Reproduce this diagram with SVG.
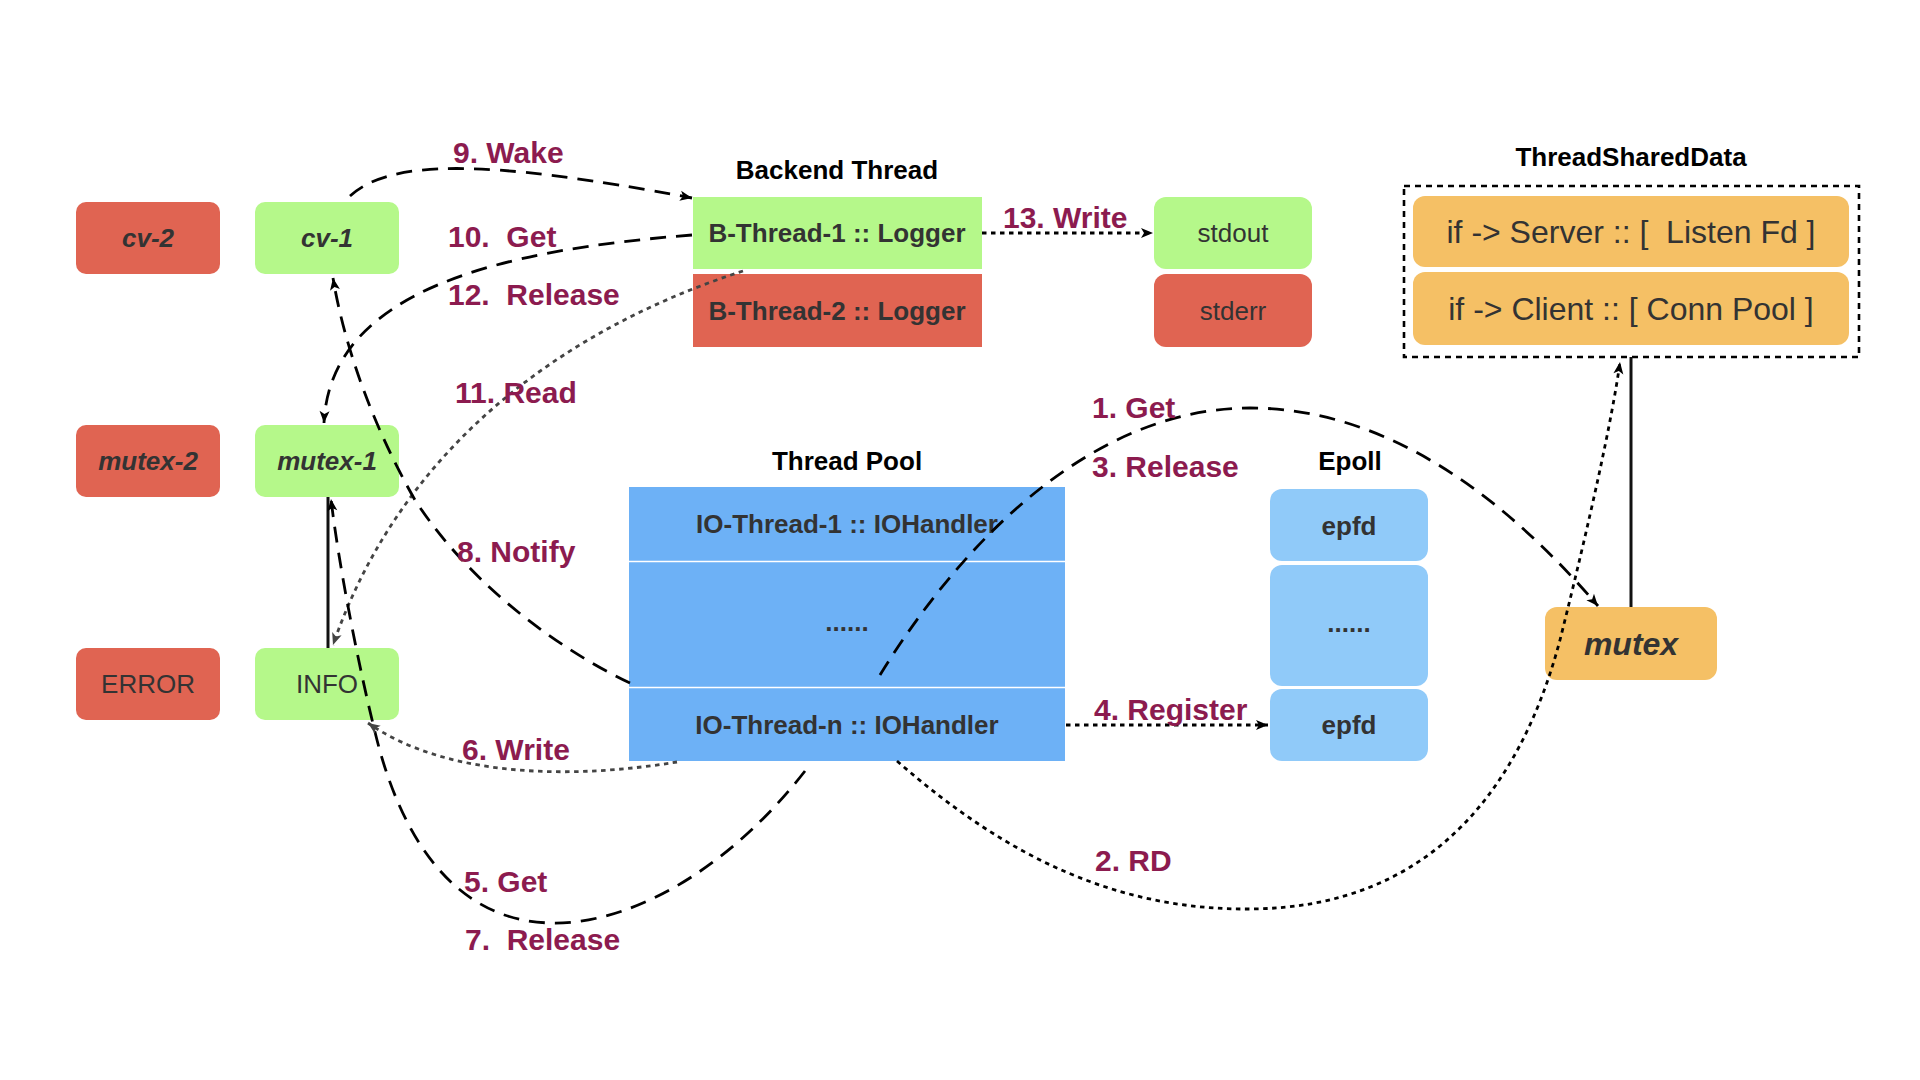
<svg xmlns="http://www.w3.org/2000/svg" width="1920" height="1080" viewBox="0 0 1920 1080">
<defs>
<style>
text{font-family:"Liberation Sans",Arial,"Noto Sans",sans-serif}
.red{fill:#E06452}
.green{fill:#B5F88A}
.blue{fill:#6DB1F6}
.lblue{fill:#90CAF9}
.orange{fill:#F5C065}
.t{font-size:26px;fill:#333;text-anchor:middle}
.b{font-weight:bold}
.bi{font-weight:bold;font-style:italic}
.title{font-size:26px;font-weight:bold;fill:#000;text-anchor:middle}
.lbl{font-size:30px;font-weight:bold;fill:#8C1B4F;white-space:pre}
.dash{fill:none;stroke:#000;stroke-width:2.8;stroke-dasharray:16 10}
.dot{fill:none;stroke:#000;stroke-width:2.8;stroke-dasharray:4.5 4.5}
.dotg{fill:none;stroke:#444;stroke-width:2.8;stroke-dasharray:4.5 4.5}
.solid{fill:none;stroke:#111;stroke-width:3}
</style>
<marker id="ah" markerUnits="userSpaceOnUse" markerWidth="14" markerHeight="12" refX="12" refY="5" orient="auto" overflow="visible">
<path d="M0,0 L12,5 L0,10 L3,5 z" fill="#000"/>
</marker>
<marker id="ahg" markerUnits="userSpaceOnUse" markerWidth="14" markerHeight="12" refX="12" refY="5" orient="auto" overflow="visible">
<path d="M0,0 L12,5 L0,10 L3,5 z" fill="#444"/>
</marker>
</defs>
<rect width="1920" height="1080" fill="#fff"/>

<g id="cv-2"><rect class="red" x="76" y="202" width="144" height="72" rx="10"/><text class="t bi" x="148" y="247">cv-2</text></g>
<g id="cv-1"><rect class="green" x="255" y="202" width="144" height="72" rx="10"/><text class="t bi" x="327" y="247">cv-1</text></g>
<g id="mutex-2"><rect class="red" x="76" y="425" width="144" height="72" rx="10"/><text class="t bi" x="148" y="470">mutex-2</text></g>
<g id="mutex-1"><rect class="green" x="255" y="425" width="144" height="72" rx="10"/><text class="t bi" x="327" y="470">mutex-1</text></g>
<g id="error"><rect class="red" x="76" y="648" width="144" height="72" rx="10"/><text class="t" x="148" y="693">ERROR</text></g>
<g id="info"><rect class="green" x="255" y="648" width="144" height="72" rx="10"/><text class="t" x="327" y="693">INFO</text></g>

<g id="backend-thread">
<text class="title" x="837" y="179">Backend Thread</text>
<g id="b-thread-1"><rect class="green" x="693" y="197" width="289" height="72"/><text class="t b" x="837" y="242">B-Thread-1 :: Logger</text></g>
<g id="b-thread-2"><rect class="red" x="693" y="274" width="289" height="73"/><text class="t b" x="837" y="320">B-Thread-2 :: Logger</text></g>
</g>
<g id="stdout"><rect class="green" x="1154" y="197" width="158" height="72" rx="12"/><text class="t" x="1233" y="242">stdout</text></g>
<g id="stderr"><rect class="red" x="1154" y="274" width="158" height="73" rx="12"/><text class="t" x="1233" y="320">stderr</text></g>

<g id="thread-pool">
<text class="title" x="847" y="470">Thread Pool</text>
<rect class="blue" x="629" y="487" width="436" height="274"/>
<line x1="629" y1="561.5" x2="1065" y2="561.5" stroke="#fff" stroke-width="1.6"/>
<line x1="629" y1="687.5" x2="1065" y2="687.5" stroke="#fff" stroke-width="1.6"/>
<text class="t b" x="847" y="533">IO-Thread-1 :: IOHandler</text>
<text class="t b" x="847" y="631">......</text>
<text class="t b" x="847" y="734">IO-Thread-n :: IOHandler</text>
</g>

<g id="epoll">
<text class="title" x="1350" y="470">Epoll</text>
<rect class="lblue" x="1270" y="489" width="158" height="72" rx="12"/>
<rect class="lblue" x="1270" y="565" width="158" height="121" rx="12"/>
<rect class="lblue" x="1270" y="689" width="158" height="72" rx="12"/>
<text class="t b" x="1349" y="535">epfd</text>
<text class="t b" x="1349" y="632">......</text>
<text class="t b" x="1349" y="734">epfd</text>
</g>

<g id="thread-shared-data">
<text class="title" x="1631" y="166">ThreadSharedData</text>
<rect x="1404" y="186" width="455" height="171" fill="none" stroke="#000" stroke-width="2.6" stroke-dasharray="6 5"/>
<rect class="orange" x="1413" y="196" width="436" height="71" rx="12"/>
<rect class="orange" x="1413" y="272" width="436" height="73" rx="12"/>
<text class="t" style="font-size:32px;white-space:pre" x="1631" y="243">if -&gt; Server :: [  Listen Fd ]</text>
<text class="t" style="font-size:32px;white-space:pre" x="1631" y="320">if -&gt; Client :: [ Conn Pool ]</text>
</g>

<g id="mutex"><rect class="orange" x="1545" y="607" width="172" height="73" rx="12"/><text class="t bi" style="font-size:32px" x="1631" y="655">mutex</text></g>

<g id="connectors">
<line class="solid" x1="328" y1="497" x2="328" y2="648"/>
<line class="solid" x1="1631" y1="357" x2="1631" y2="607"/>
<path class="dash" d="M350 196 C390 160 480 158 692 198" marker-end="url(#ah)"/>
<path class="dash" d="M692 235 C500 250 330 290 324 423" marker-end="url(#ah)"/>
<path class="dotg" d="M743 271 C560 330 400 450 333 645" marker-end="url(#ahg)"/>
<path class="dot" d="M982 233 L1153 233" marker-end="url(#ah)"/>
<path class="dash" d="M630 683 C540 640 460 570 415 500 C375 430 345 350 333 278" marker-end="url(#ah)"/>
<path class="dash" d="M805 771 C720 880 620 925 551 923 C450 921 400 830 377 740 C358 665 338 560 331 499" marker-end="url(#ah)"/>
<path class="dotg" d="M677 762 C580 778 450 780 368 723" marker-end="url(#ahg)"/>
<path class="dash" d="M880 675 C960 545 1090 408 1250 408 C1400 408 1520 515 1598 606" marker-end="url(#ah)"/>
<path class="dot" d="M897 761 C1010 860 1120 910 1250 909 C1430 908 1520 790 1560 640 C1590 520 1612 420 1620 362" marker-end="url(#ah)"/>
<path class="dot" d="M1066 725 L1268 725" marker-end="url(#ah)"/>
<text class="lbl" x="453" y="163">9. Wake</text>
<text class="lbl" x="448" y="247">10.  Get</text>
<text class="lbl" x="448" y="305">12.  Release</text>
<text class="lbl" x="455" y="403">11. Read</text>
<text class="lbl" x="1003" y="228">13. Write</text>
<text class="lbl" x="457" y="562">8. Notify</text>
<text class="lbl" x="462" y="760">6. Write</text>
<text class="lbl" x="464" y="892">5. Get</text>
<text class="lbl" x="465" y="950">7.  Release</text>
<text class="lbl" x="1092" y="418">1. Get</text>
<text class="lbl" x="1092" y="477">3. Release</text>
<text class="lbl" x="1094" y="720">4. Register</text>
<text class="lbl" x="1095" y="871">2. RD</text>
</g>
</svg>
